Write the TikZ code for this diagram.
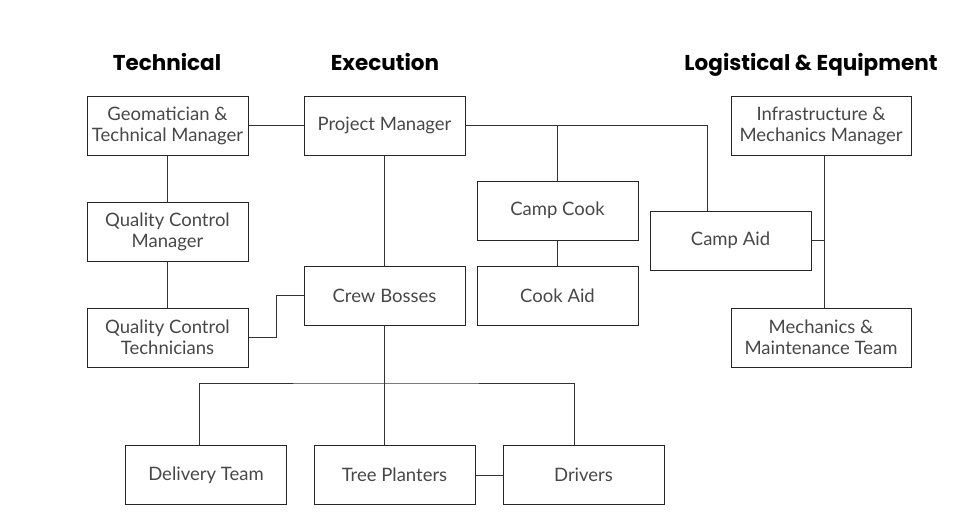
\documentclass[tikz,border=0pt]{standalone}
\usepackage{fontspec}
\setmainfont{Lato}
\newfontfamily\headfont{Poppins}

\begin{document}
\begin{tikzpicture}[x=1pt,y=1pt,yscale=-1,xscale=1,
  box/.style={draw=black!85,line width=1pt,minimum width=161pt,minimum height=59pt,inner sep=1pt,align=center,text=black!72,font=\fontsize{18.5}{21}\selectfont},
  head/.style={anchor=base,inner sep=0.75pt,text=black,font=\headfont\bfseries\fontsize{21.5}{24}\selectfont},
  link/.style={draw=black!80,line width=0.9pt}]
\useasboundingbox (0,0) rectangle (960,530); %set diagram to 960 x 530

% Headings
\node [head] (hTech) at (167,70) {Technical};
\node [head] (hExec) at (385,70) {Execution};
\node [head] (hLog) at (811,70) {Logistical \& Equipment};

% Technical column
\node [box] (geo) at (167.5,125.5) {Geomatician \&\\Technical Manager};
\node [box] (qcm) at (167.5,231.5) {Quality Control\\Manager};
\node [box] (qct) at (167.5,337.5) {Quality Control\\Technicians};

% Execution column
\node [box] (pm) at (384.5,125.5) {Project Manager};
\node [box] (crew) at (384.5,295.5) {Crew Bosses};
\node [box] (cook) at (557.5,210.5) {Camp Cook};
\node [box] (cookaid) at (557.5,295.5) {Cook Aid};
\node [box] (delivery) at (206,475) {Delivery Team};
\node [box] (planters) at (394.5,475) {Tree Planters};
\node [box] (drivers) at (583.5,475) {Drivers};

% Logistical column
\node [box,minimum width=180pt] (infra) at (821,125.5) {Infrastructure \&\\Mechanics Manager};
\node [box] (campaid) at (730.5,240.5) {Camp Aid};
\node [box,minimum width=180pt] (mech) at (821,337.5) {Mechanics \&\\Maintenance Team};

% Connectors
\draw [link] (geo.east) -- (pm.west);
\draw [link] (geo.south) -- (qcm.north);
\draw [link] (qcm.south) -- (qct.north);
\draw [link] (qct.east) -- ++(28,0) |- (crew.west);
\draw [link] (pm.south) -- (crew.north);
\draw [link] (pm.east) -| ([xshift=-23.5pt]campaid.north);
\draw [link] (cook.north) -- (cook.north |- pm.east);
\draw [link] (cook.south) -- (cookaid.north);
\draw [link] ([xshift=3pt]infra.south) -- ([xshift=3pt]mech.north);
\draw [link] (campaid.east) -- ([xshift=3pt]campaid.east -| infra.south);

% Crew branches
\coordinate (split) at (385,383);
\draw [link] (crew.south) -- (crew.south |- planters.north);
\draw [link] ([xshift=-7pt]delivery.north) |- (split) -| ([xshift=-9.5pt]drivers.north);
\draw [link] (planters.east) -- (drivers.west);
\end{tikzpicture}
\end{document}
